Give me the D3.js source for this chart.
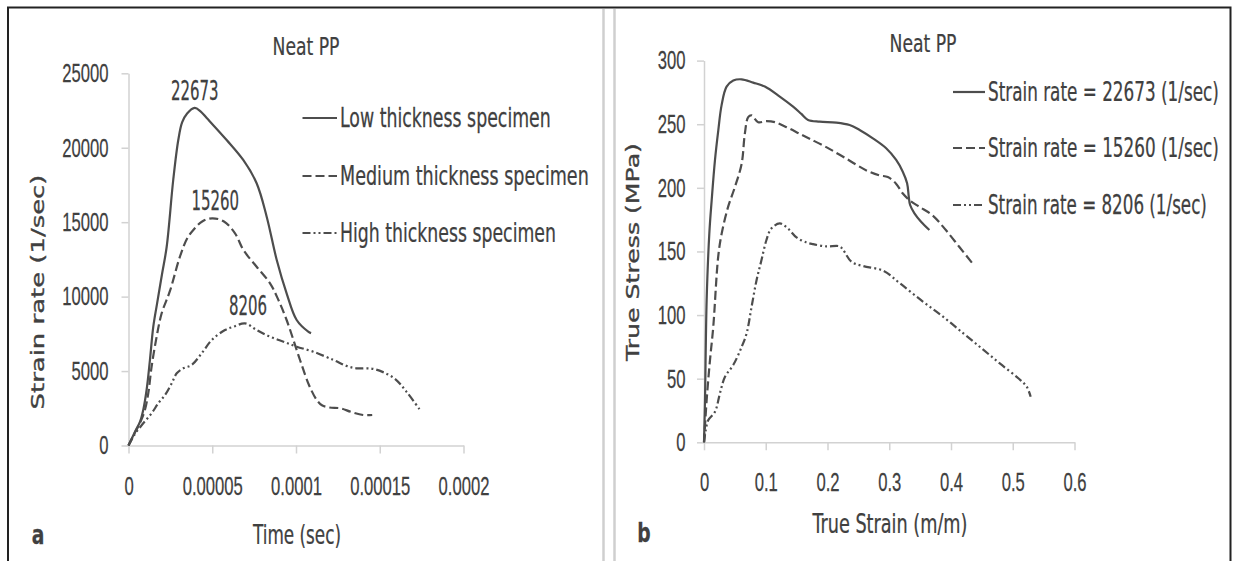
<!DOCTYPE html>
<html>
<head>
<meta charset="utf-8">
<title>Neat PP</title>
<script src="https://d3js.org/d3.v7.min.js"></script>
<style>
  body { margin: 0; background: #fff; }
  svg { display: block; font-family: "Liberation Sans Narrow", "Arial Narrow", "DejaVu Sans Condensed", sans-serif; }
  .axis path, .axis line { stroke: #d2d2d2; stroke-width: 1.5; }
  .axis text { fill: #404040; stroke: #404040; stroke-width: 0.25; font-size: 26px; font-family: inherit; }
  .curve { fill: none; stroke: #4d4d4d; stroke-width: 2.2; }
  .label { fill: #404040; stroke: #404040; stroke-width: 0.25; font-size: 26px; }
  .title { fill: #404040; stroke: #404040; stroke-width: 0.2; font-size: 24px; }
  .ytitle { fill: #404040; stroke: #404040; stroke-width: 0.35; font-size: 18px; font-family: "DejaVu Sans", sans-serif; }
</style>
</head>
<body>
<svg id="chart" width="1233" height="561"></svg>
<script>
// ---- panel a: strain rate vs time ----
const timeTicks = [0, 0.00005, 0.0001, 0.00015, 0.0002];
const timeTickLabels = ["0", "0.00005", "0.0001", "0.00015", "0.0002"];
const rateTicks = [0, 5000, 10000, 15000, 20000, 25000];

const lowTime = [0, 0.0000039, 0.0000069, 0.0000088, 0.0000108, 0.0000128, 0.0000148, 0.000017, 0.00002, 0.0000228, 0.0000267, 0.0000297, 0.000032, 0.000035, 0.0000395, 0.000043, 0.0000467, 0.0000586, 0.0000685, 0.0000765, 0.0000825, 0.0000885, 0.0000944, 0.0001004, 0.0001073, 0.000109];
const lowRate = [0, 927, 1599, 2384, 3728, 5743, 7980, 9500, 11500, 13350, 17833, 20500, 21700, 22300, 22673, 22450, 22000, 20520, 19177, 17612, 15368, 12460, 10223, 8430, 7650, 7550];

const medTime = [0, 0.000004, 0.000007, 0.0000098, 0.0000118, 0.0000138, 0.0000168, 0.0000198, 0.0000248, 0.0000307, 0.000035, 0.0000387, 0.000044, 0.00005, 0.000057, 0.0000636, 0.0000686, 0.0000765, 0.0000845, 0.000089, 0.0000944, 0.0001024, 0.000108, 0.0001124, 0.0001155, 0.00012, 0.0001265, 0.000133, 0.00014, 0.0001455];
const medRate = [0, 900, 1550, 2384, 3506, 5293, 7308, 8880, 10400, 12682, 13900, 14475, 15050, 15260, 15050, 14253, 13131, 12010, 10895, 9900, 8430, 5743, 4000, 3056, 2700, 2550, 2500, 2250, 2050, 2050];

const highTime = [0, 0.000004, 0.0000088, 0.0000138, 0.0000178, 0.0000218, 0.0000258, 0.0000288, 0.0000327, 0.0000377, 0.0000437, 0.0000497, 0.0000576, 0.000063, 0.0000696, 0.0000765, 0.0000845, 0.000093, 0.0001004, 0.0001103, 0.0001223, 0.00013, 0.000136, 0.000145, 0.000152, 0.0001594, 0.000166, 0.0001747];
const highRate = [0, 800, 1491, 2163, 2834, 3392, 4178, 4850, 5185, 5407, 6193, 7086, 7758, 7990, 8206, 7758, 7308, 6950, 6636, 6300, 5743, 5350, 5185, 5169, 4928, 4447, 3606, 2284];

const peakRates = [22673, 15260, 8206];
const peakTimes = [0.0000395, 0.00005, 0.0000696];
const legendA = ["Low thickness specimen", "Medium thickness specimen", "High thickness specimen"];

// ---- panel b: true stress vs true strain ----
const strainTicks = [0, 0.1, 0.2, 0.3, 0.4, 0.5, 0.6];
const stressTicks = [0, 50, 100, 150, 200, 250, 300];

const s1Strain = [0, 0.0016, 0.0043, 0.0086, 0.0124, 0.0178, 0.0231, 0.0285, 0.0366, 0.0474, 0.0608, 0.0797, 0.0985, 0.1227, 0.1443, 0.1577, 0.1685, 0.1873, 0.2143, 0.2358, 0.252, 0.2735, 0.295, 0.3112, 0.3219, 0.3289, 0.3316, 0.3338, 0.3408, 0.3515, 0.365];
const s1Stress = [0, 33, 111.7, 164, 190, 222, 245, 265, 279.5, 284.3, 285.3, 282.7, 279.6, 271.7, 263.8, 258.1, 253.4, 252, 251.3, 249.4, 245.5, 238.9, 231.1, 221.9, 212.7, 203.6, 193.1, 186.5, 180, 173.4, 166.9];

const s2Strain = [0, 0.0043, 0.0097, 0.015, 0.023, 0.0286, 0.039, 0.05, 0.061, 0.066, 0.0716, 0.077, 0.0877, 0.1013, 0.1147, 0.1336, 0.155, 0.171, 0.198, 0.2305, 0.263, 0.284, 0.2977, 0.311, 0.322, 0.333, 0.349, 0.37, 0.392, 0.4136, 0.435];
const s2Stress = [0, 33.2, 64.6, 90.7, 146, 164, 185, 200.6, 219, 242, 255.6, 257, 251.6, 252.4, 251.6, 247.7, 242.5, 238.6, 232, 222.9, 213.7, 209.8, 208.5, 203.3, 195.5, 190.2, 185, 178.4, 166.6, 153.5, 140.5];

const s3Strain = [0, 0.003, 0.007, 0.0178, 0.0258, 0.034, 0.0473, 0.061, 0.069, 0.077, 0.0851, 0.093, 0.101, 0.109, 0.1228, 0.136, 0.1498, 0.166, 0.1766, 0.198, 0.2197, 0.2256, 0.239, 0.258, 0.2904, 0.3174, 0.355, 0.3875, 0.42, 0.4497, 0.479, 0.509, 0.5226, 0.529];
const s3Stress = [0, 10, 17.5, 24, 38.5, 51.5, 60.7, 75, 85.6, 106.4, 127.4, 143, 158.8, 168, 172, 168, 161, 157, 155.7, 154, 154, 151, 141.8, 138.5, 134.8, 124.9, 110.4, 98.6, 85.6, 73.8, 62, 50.3, 43.7, 35.8];

const legendB = ["Strain rate = 22673 (1/sec)", "Strain rate = 15260 (1/sec)", "Strain rate = 8206 (1/sec)"];

// line styles: solid, dashed, dash-dot-dot
const dashes = [null, "9,4", "8,3,2,3,2,3"];

const svg = d3.select("#chart");

// frame and divider
svg.append("path")
  .attr("d", "M8,561V7.5H1230.5V561")
  .attr("fill", "none").attr("stroke", "#222").attr("stroke-width", 2);
svg.selectAll(".divider")
  .data([603.5, 614.5])
  .enter().append("line")
    .attr("x1", d => d).attr("x2", d => d)
    .attr("y1", 9).attr("y2", 561)
    .attr("stroke", "#cfcfcf").attr("stroke-width", 2.5);

// squeeze a text horizontally (the source figure has narrow, tall lettering)
// w > 1: target width in px; w <= 1: factor of its natural width
function squeeze(sel, w) {
  sel.each(function() {
    const t = d3.select(this);
    const nat = this.getComputedTextLength();
    const k = w > 1 ? w / nat : w;
    const x = +t.attr("x") || 0, y = +t.attr("y") || 0;
    const pre = t.attr("transform") || "";
    t.attr("x", 0).attr("y", 0)
      .attr("transform", "translate(" + x + "," + y + ") " + pre + " scale(" + k + ",1)");
  });
}

function panel(o) {
  const g = svg.append("g");
  const x = d3.scaleLinear().domain(o.xDomain).range(o.xRange);
  const y = d3.scaleLinear().domain(o.yDomain).range(o.yRange);

  g.append("g").attr("class", "axis")
    .attr("transform", "translate(0," + o.yRange[0] + ")")
    .call(d3.axisBottom(x).tickValues(o.xTicks).tickFormat((d, i) => o.xLabels[i])
      .tickSize(8).tickSizeOuter(0).tickPadding(o.xPad))
    .selectAll("text").call(squeeze, 0.64);
  g.append("g").attr("class", "axis")
    .attr("transform", "translate(" + o.xRange[0] + ",0)")
    .call(d3.axisLeft(y).tickValues(o.yTicks).tickFormat(d3.format("d"))
      .tickSize(7).tickSizeOuter(0).tickPadding(o.yPad))
    .selectAll("text").call(squeeze, 0.64);

  const line = d3.line()
    .x(d => x(d[0])).y(d => y(d[1]))
    .curve(d3.curveCatmullRom.alpha(0.5));
  o.series.forEach((s, i) => {
    g.append("path")
      .attr("class", "curve")
      .attr("d", line(d3.zip(s[0], s[1])))
      .attr("stroke-dasharray", dashes[i]);
  });

  // legend
  o.legend.forEach((name, i) => {
    const ly = o.legendY[i];
    g.append("line")
      .attr("class", "curve")
      .attr("x1", o.legendX[0]).attr("x2", o.legendX[1])
      .attr("y1", ly).attr("y2", ly)
      .attr("stroke-dasharray", dashes[i]);
    g.append("text")
      .attr("class", "label")
      .attr("x", o.legendX[1] + 3).attr("y", ly + 9)
      .text(name)
      .call(squeeze, o.legendW[i]);
  });

  // titles
  g.append("text").attr("class", "title")
    .attr("x", o.title[0]).attr("y", o.title[1] + 8.5)
    .attr("text-anchor", "middle").text("Neat PP").call(squeeze, 67);
  g.append("text").attr("class", "label")
    .attr("x", o.xTitle[0]).attr("y", o.xTitle[1] + 9)
    .attr("text-anchor", "middle").text(o.xTitle[2]).call(squeeze, o.xTitle[3]);
  g.append("text").attr("class", "ytitle")
    .attr("x", o.yTitle[0]).attr("y", o.yTitle[1])
    .attr("transform", "rotate(-90)")
    .attr("text-anchor", "middle").attr("dy", "0.36em")
    .text(o.yTitle[2]).call(squeeze, o.yTitle[3]);
  g.append("text").attr("class", "label")
    .attr("x", o.tag[0]).attr("y", o.tag[1] + 9)
    .attr("text-anchor", "middle").attr("font-weight", "bold")
    .text(o.tag[2]).call(squeeze, 0.8);
  return { x, y, g };
}

const a = panel({
  xDomain: [0, 0.0002], xRange: [128.5, 463.5],
  yDomain: [0, 25000], yRange: [445.5, 73.3],
  xTicks: timeTicks, xLabels: timeTickLabels, yTicks: rateTicks,
  xPad: 23, yPad: 13,
  series: [[lowTime, lowRate], [medTime, medRate], [highTime, highRate]],
  legend: legendA, legendX: [302.5, 337], legendY: [118, 176, 233], legendW: [211, 249, 216],
  title: [306, 46], xTitle: [297, 535, "Time (sec)", 88],
  yTitle: [38, 292, "Strain rate (1/sec)", 235], tag: [38, 535, "a"]
});

// peak value labels
a.g.selectAll(".peak")
  .data(peakRates)
  .enter().append("text")
    .attr("class", "label")
    .attr("text-anchor", "middle")
    .attr("x", (d, i) => a.x(peakTimes[i]) + [0, 3, 3][i])
    .attr("y", d => a.y(d) - 8)
    .text(d => d)
    .call(squeeze, 0.64);

panel({
  xDomain: [0, 0.6], xRange: [704, 1074.5],
  yDomain: [0, 300], yRange: [442.3, 60.6],
  xTicks: strainTicks, xLabels: strainTicks.map(String), yTicks: stressTicks,
  xPad: 22, yPad: 11.5,
  series: [[s1Strain, s1Stress], [s2Strain, s2Stress], [s3Strain, s3Stress]],
  legend: legendB, legendX: [953, 985], legendY: [92, 148, 205], legendW: [231, 231, 219],
  title: [923, 43], xTitle: [890, 524, "True Strain (m/m)", 155],
  yTitle: [633, 252, "True Stress (MPa)", 218], tag: [644, 533, "b"]
});
</script>
</body>
</html>
